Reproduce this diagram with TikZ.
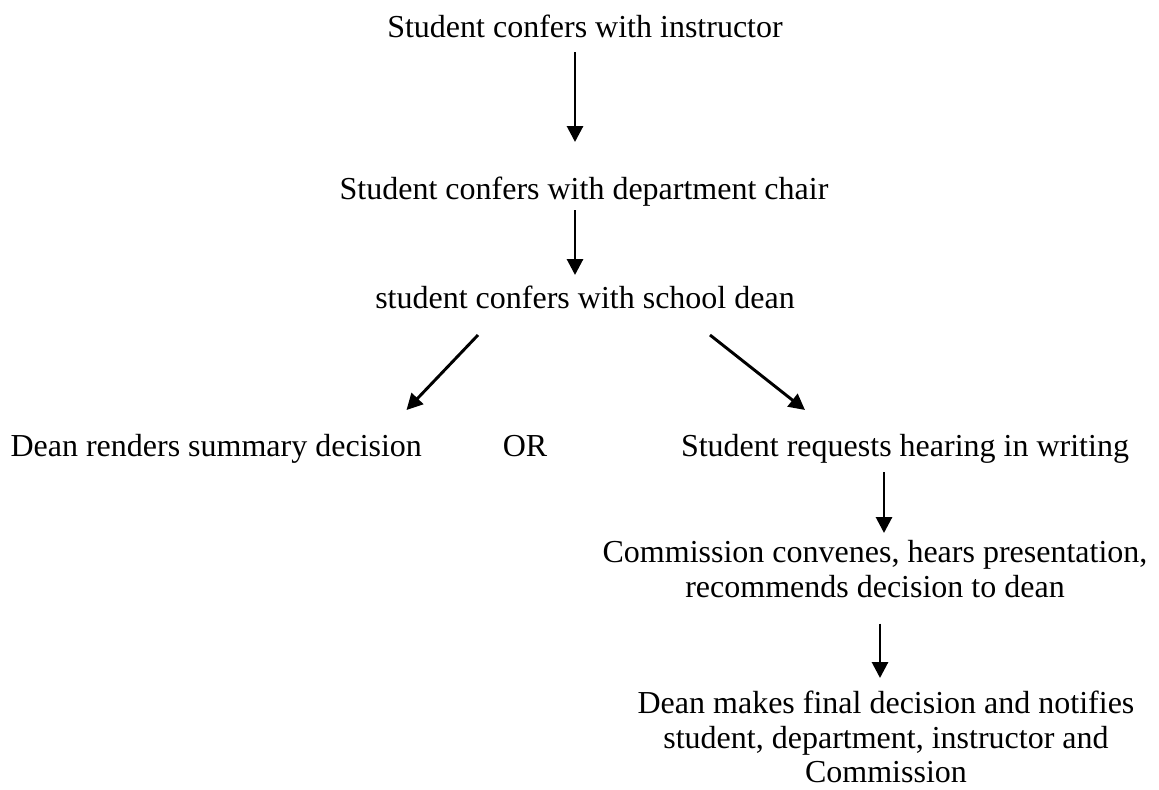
\documentclass[tikz,border=0pt]{standalone}
\usepackage{fontspec}
\setmainfont{Liberation Serif}
\usepackage{tikz}
\usetikzlibrary{arrows.meta, positioning, calc}

\begin{document}
\begin{tikzpicture}[
    x=0.375pt, y=-0.375pt,
    stage/.style={inner sep=0pt, anchor=base,
                font=\fontsize{12pt}{13.1pt}\selectfont},
    multi/.style={inner sep=0pt, anchor=north, align=center,
                font=\fontsize{12pt}{13.1pt}\selectfont},
    arrow/.style={-{Triangle[length=6pt, width=6pt]}, line width=1.1pt}
]
    \useasboundingbox (0,0) rectangle (1159,789);

    % Top chain
    \node[stage] (instructor) at (585,37.5) {Student confers with instructor};
    \node[stage] (chair) at (584,199) {Student confers with department chair};
    \node[stage] (dean) at (585,308) {student confers with school dean};

    % Split
    \node[stage, anchor=base west] (summary) at (10,456) {Dean renders summary decision};
    \node[stage] (or) at (525,456) {OR};
    \node[stage] (request) at (905,456) {Student requests hearing in writing};

    % Hearing branch
    \node[multi] (commission) at (875,540) {Commission convenes, hears presentation,\\recommends decision to dean};
    \node[multi] (final) at (886,690) {Dean makes final decision and notifies\\student, department, instructor and\\Commission};

    % Arrows
    \draw[arrow] ($(instructor.base)+(-10,14.5)$) -- ($(chair.base)+(-9,-57)$);
    \draw[arrow] ($(chair.base)+(-9,11)$) -- ($(dean.base)+(-10,-33)$);
    \draw[arrow] ($(dean.base)+(-107,27)$) -- ($(summary.base east)+(-16,-46)$);
    \draw[arrow] ($(dean.base)+(125,27)$) -- ($(request.base)+(-100,-46)$);
    \draw[arrow] ($(request.base)+(-21,16)$) -- ($(commission.north)+(9,-7)$);
    \draw[arrow] ($(commission.south)+(5,25)$) -- ($(final.north)+(-6,-12)$);
\end{tikzpicture}
\end{document}
